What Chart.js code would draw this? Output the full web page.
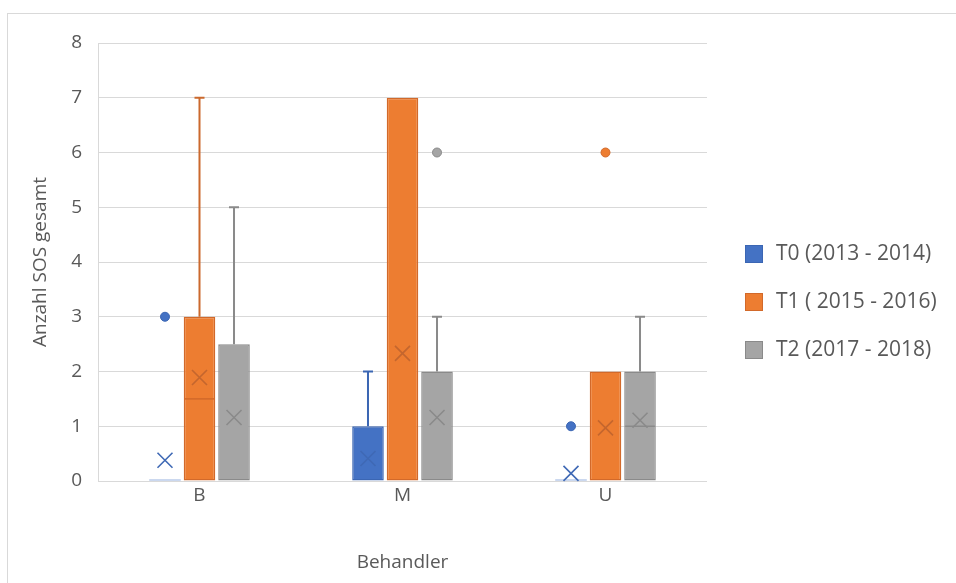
<!DOCTYPE html>
<html><head><meta charset="utf-8">
<script src="https://cdn.jsdelivr.net/npm/chart.js@4.4.1/dist/chart.umd.min.js"></script>
<style>html,body{margin:0;padding:0;background:#fff}#wrap{width:956px;height:583px;position:relative}</style>
</head><body><div id="wrap"><canvas id="c" width="956" height="583"></canvas></div>
<script>
// ---- data ----
const categories = ['B', 'M', 'U'];
const seriesNames = ['T0 (2013 - 2014)', 'T1 ( 2015 - 2016)', 'T2 (2017 - 2018)'];
const yTickValues = [0, 1, 2, 3, 4, 5, 6, 7, 8];

const t0Min = [0, 0, 0];
const t0Q1 = [0, 0, 0];
const t0Median = [0, 0, 0];
const t0Q3 = [0, 1, 0];
const t0Max = [0, 2, 0];
const t0Mean = [0.38, 0.41, 0.14];
const t0Outliers = [[3], [], [1]];

const t1Min = [0, 0, 0];
const t1Q1 = [0, 0, 0];
const t1Median = [1.5, 0, 0];
const t1Q3 = [3, 7, 2];
const t1Max = [7, 7, 2];
const t1Mean = [1.89, 2.33, 0.97];
const t1Outliers = [[], [], [6]];

const t2Min = [0, 0, 0];
const t2Q1 = [0, 0, 0];
const t2Median = [0, 0, 1];
const t2Q3 = [2.5, 2, 2];
const t2Max = [5, 3, 3];
const t2Mean = [1.16, 1.16, 1.11];
const t2Outliers = [[], [6], []];

// ---- styles ----
const FONT = "'Open Sans', sans-serif";
const TEXT = '#595959';
const GRID = '#d9d9d9';
const styles = [
  {fill: '#4472C4', border: '#3B66B3', whisker: '#3B66B3', mean: '#3F69B5', flat: 'rgba(68,114,196,0.28)'},
  {fill: '#ED7D31', border: '#D2692A', whisker: '#CB692D', mean: '#C4662E', flat: 'rgba(237,125,49,0.28)'},
  {fill: '#A5A5A5', border: '#8A8A8A', whisker: '#8A8A8A', mean: '#8A8A8A', flat: 'rgba(165,165,165,0.28)'}
];

const statSets = [
  {min: t0Min, q1: t0Q1, median: t0Median, q3: t0Q3, max: t0Max, mean: t0Mean, outliers: t0Outliers},
  {min: t1Min, q1: t1Q1, median: t1Median, q3: t1Q3, max: t1Max, mean: t1Mean, outliers: t1Outliers},
  {min: t2Min, q1: t2Q1, median: t2Median, q3: t2Q3, max: t2Max, mean: t2Mean, outliers: t2Outliers}
];

const datasets = statSets.map((s, i) => ({
  label: seriesNames[i],
  data: categories.map((c, j) => [s.q1[j], s.q3[j]]),
  stats: s,
  backgroundColor: styles[i].fill,
  borderColor: styles[i].border,
  borderWidth: 1.5,
  borderSkipped: false,
  categoryPercentage: 0.51,
  barPercentage: 0.915
}));

const boxPlugin = {
  id: 'boxExtras',
  beforeDraw(chart) {
    const ctx = chart.ctx;
    ctx.save();
    ctx.strokeStyle = GRID;
    ctx.lineWidth = 1;
    ctx.strokeRect(7.5, 13.5, 960, 620);
    ctx.restore();
  },
  afterDatasetsDraw(chart) {
    const ctx = chart.ctx;
    const ys = chart.scales.y;
    chart.data.datasets.forEach((ds, i) => {
      const meta = chart.getDatasetMeta(i);
      const st = ds.stats;
      const sty = styles[i];
      meta.data.forEach((bar, j) => {
        const x = bar.x, w = bar.width;
        const yq1 = ys.getPixelForValue(st.q1[j]);
        const yq3 = ys.getPixelForValue(st.q3[j]);
        ctx.save();
        // flat box (q1 == q3)
        if (st.q1[j] === st.q3[j]) {
          ctx.strokeStyle = sty.flat;
          ctx.lineWidth = 2;
          ctx.beginPath();
          ctx.moveTo(x - w / 2, yq1 - 1);
          ctx.lineTo(x + w / 2, yq1 - 1);
          ctx.stroke();
        }
        // whiskers
        ctx.strokeStyle = sty.whisker;
        ctx.lineWidth = 2;
        const cap = 5;
        if (st.max[j] > st.q3[j]) {
          const ym = ys.getPixelForValue(st.max[j]);
          ctx.beginPath();
          ctx.moveTo(x, yq3); ctx.lineTo(x, ym);
          ctx.moveTo(x - cap, ym); ctx.lineTo(x + cap, ym);
          ctx.stroke();
        }
        if (st.min[j] < st.q1[j]) {
          const ym = ys.getPixelForValue(st.min[j]);
          ctx.beginPath();
          ctx.moveTo(x, yq1); ctx.lineTo(x, ym);
          ctx.moveTo(x - cap, ym); ctx.lineTo(x + cap, ym);
          ctx.stroke();
        }
        // median
        if (st.median[j] > st.q1[j] && st.median[j] < st.q3[j]) {
          const ymed = ys.getPixelForValue(st.median[j]);
          ctx.strokeStyle = sty.border;
          ctx.lineWidth = 1.5;
          ctx.beginPath();
          ctx.moveTo(x - w / 2 + 1, ymed); ctx.lineTo(x + w / 2 - 1, ymed);
          ctx.stroke();
        }
        // outliers
        ctx.fillStyle = sty.fill;
        ctx.strokeStyle = sty.border;
        ctx.lineWidth = 1;
        st.outliers[j].forEach(v => {
          const yo = ys.getPixelForValue(v);
          ctx.beginPath();
          ctx.arc(x, yo, 4.5, 0, Math.PI * 2);
          ctx.fill();
          ctx.stroke();
        });
        // mean marker (X)
        const ymean = ys.getPixelForValue(st.mean[j]);
        const h = 7.5;
        ctx.strokeStyle = sty.mean;
        ctx.lineWidth = 1.6;
        ctx.beginPath();
        ctx.moveTo(x - h, ymean - h); ctx.lineTo(x + h, ymean + h);
        ctx.moveTo(x + h, ymean - h); ctx.lineTo(x - h, ymean + h);
        ctx.stroke();
        ctx.restore();
      });
    });
  },
  afterDraw(chart) {
    // legend
    const ctx = chart.ctx;
    ctx.save();
    ctx.font = '21px ' + FONT;
    ctx.textBaseline = 'middle';
    ctx.textAlign = 'left';
    chart.data.datasets.forEach((ds, i) => {
      const cy = 254 + i * 48;
      ctx.fillStyle = styles[i].fill;
      ctx.fillRect(745, cy - 9, 18, 18);
      ctx.strokeStyle = styles[i].border;
      ctx.lineWidth = 1;
      ctx.strokeRect(745.5, cy - 8.5, 17, 17);
      ctx.fillStyle = TEXT;
      ctx.fillText(ds.label, 776, cy);
    });
    ctx.restore();
  }
};

new Chart(document.getElementById('c'), {
  type: 'bar',
  data: {labels: categories, datasets: datasets},
  plugins: [boxPlugin],
  options: {
    responsive: false,
    animation: false,
    layout: {padding: {top: 43, left: 7, right: 249, bottom: 0}},
    plugins: {legend: {display: false}, tooltip: {enabled: false}},
    scales: {
      x: {
        grid: {display: false, drawTicks: false},
        border: {display: false},
        ticks: {color: TEXT, font: {family: FONT, size: 19}, padding: 3},
        title: {display: true, text: 'Behandler', color: TEXT, font: {family: FONT, size: 19}, padding: {top: 0, bottom: 9}},
        afterFit(scale) { scale.height = 102; }
      },
      y: {
        min: 0, max: 8,
        afterBuildTicks(scale) { scale.ticks = yTickValues.map(v => ({value: v})); },
        grid: {color: GRID, lineWidth: 1, drawTicks: false},
        border: {display: true, color: GRID},
        ticks: {color: TEXT, font: {family: FONT, size: 19}, padding: 16},
        title: {display: true, text: 'Anzahl SOS gesamt', color: TEXT, font: {family: FONT, size: 19}, padding: {top: 22, bottom: 0}},
        afterFit(scale) { scale.width = 91; }
      }
    }
  }
});
</script>
</body></html>
